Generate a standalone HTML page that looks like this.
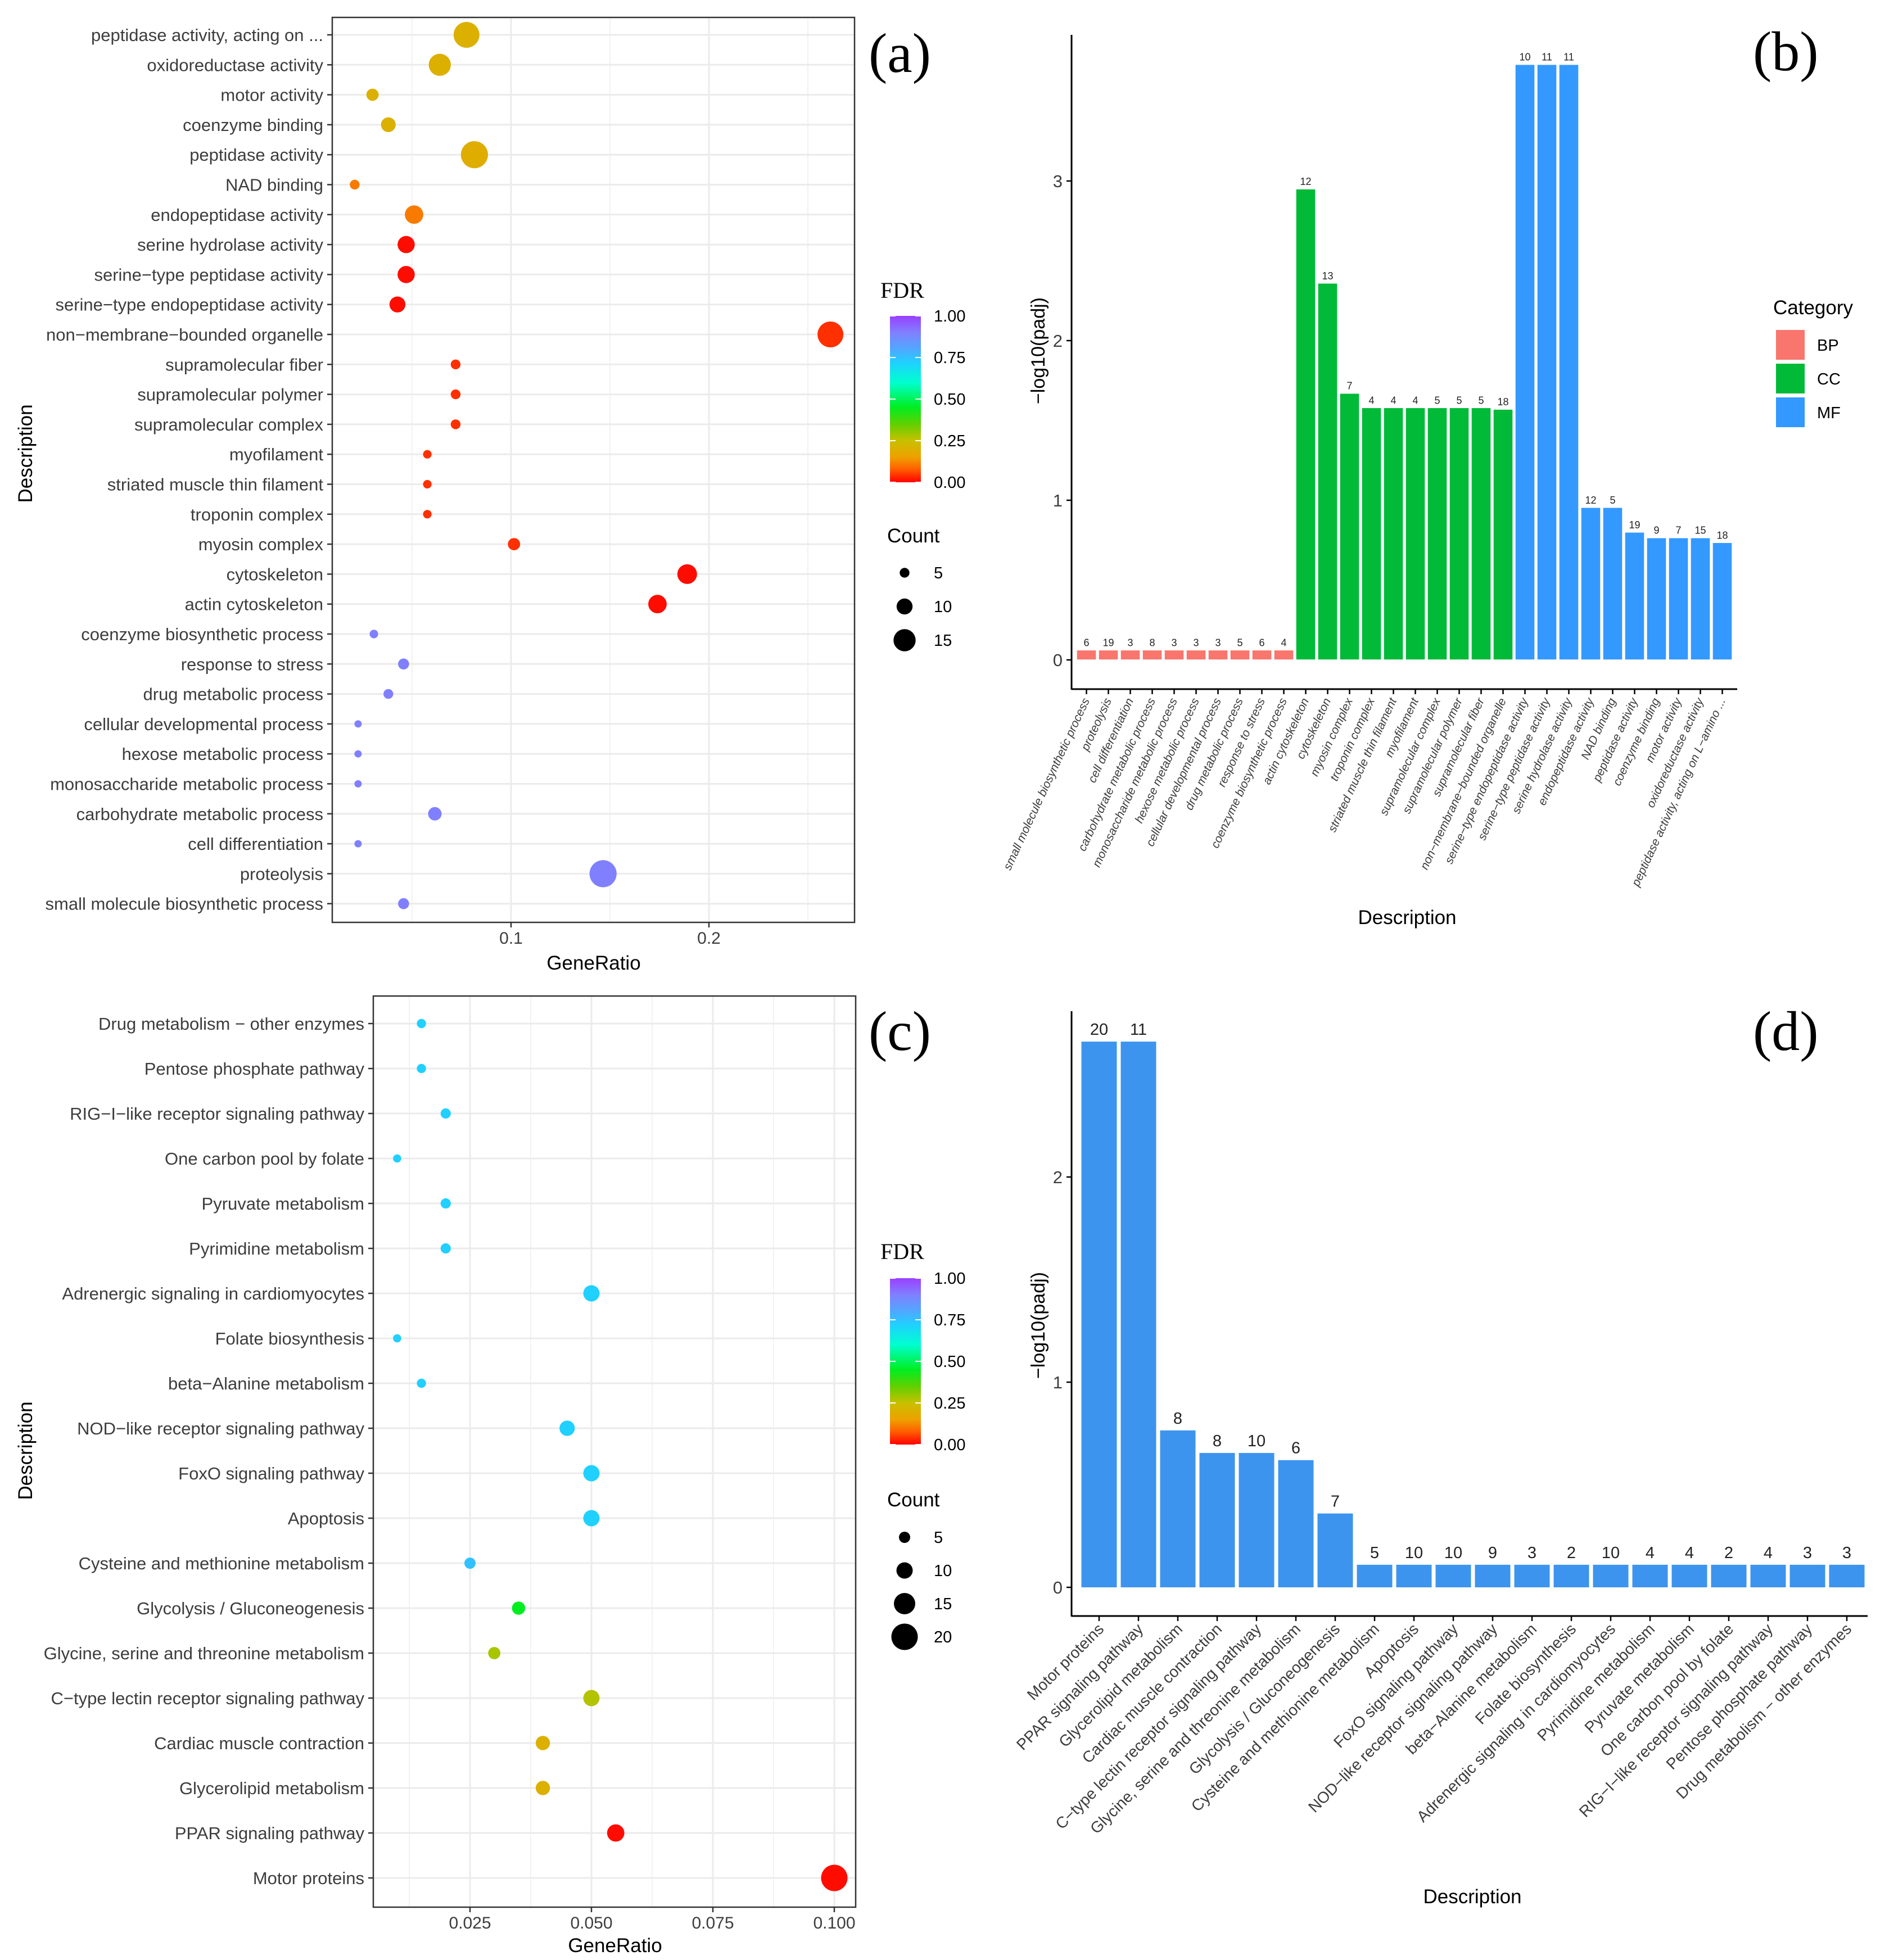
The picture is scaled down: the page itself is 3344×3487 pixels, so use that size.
<!DOCTYPE html>
<html><head><meta charset="utf-8"><style>
html,body{margin:0;padding:0;background:#fff;}
svg{display:block;font-family:"Liberation Sans",sans-serif;}
</style></head><body>
<svg id="fig" width="3344" height="3487" viewBox="0 0 3344 3487" xmlns="http://www.w3.org/2000/svg">
<defs>
<linearGradient id="fdrgrad" x1="0" y1="1" x2="0" y2="0">
<stop offset="0" stop-color="#ff0000"/><stop offset="0.08" stop-color="#ff6000"/><stop offset="0.15" stop-color="#eea000"/><stop offset="0.25" stop-color="#c8c000"/><stop offset="0.35" stop-color="#60d000"/><stop offset="0.45" stop-color="#00ee20"/><stop offset="0.6" stop-color="#00ffd0"/><stop offset="0.72" stop-color="#20d0ff"/><stop offset="0.8" stop-color="#50a8ff"/><stop offset="0.9" stop-color="#8080ff"/><stop offset="1" stop-color="#9a40ff"/>
</linearGradient>
</defs>
</svg>
<script>
// ---------- Panel a data ----------
const aTerms=["peptidase activity, acting on ...","oxidoreductase activity","motor activity","coenzyme binding","peptidase activity","NAD binding","endopeptidase activity","serine hydrolase activity","serine\u2212type peptidase activity","serine\u2212type endopeptidase activity","non\u2212membrane\u2212bounded organelle","supramolecular fiber","supramolecular polymer","supramolecular complex","myofilament","striated muscle thin filament","troponin complex","myosin complex","cytoskeleton","actin cytoskeleton","coenzyme biosynthetic process","response to stress","drug metabolic process","cellular developmental process","hexose metabolic process","monosaccharide metabolic process","carbohydrate metabolic process","cell differentiation","proteolysis","small molecule biosynthetic process"];
const aRatio=[0.0775,0.064,0.030,0.038,0.0815,0.021,0.051,0.047,0.047,0.0426,0.2614,0.072,0.072,0.072,0.0577,0.0577,0.0577,0.1015,0.189,0.174,0.0307,0.0457,0.038,0.0227,0.0227,0.0227,0.0615,0.0227,0.1465,0.0457];
const aCount=[18,15,7,9,19,5,12,11,11,10,18,5,5,5,4,4,4,7,13,12,4,6,5,3,3,3,8,3,19,6];
const aFDR=[0.2,0.2,0.2,0.2,0.19,0.11,0.11,0.01,0.01,0.01,0.04,0.04,0.04,0.04,0.04,0.04,0.04,0.04,0.01,0.01,0.9,0.9,0.9,0.9,0.9,0.9,0.9,0.9,0.9,0.9];
const aXTicks=[0.1,0.2];
const aXTickLabels=["0.1","0.2"];
const aSizeLegend=[5,10,15];

// ---------- Panel b data ----------
const bTerms=["small molecule biosynthetic process","proteolysis","cell differentiation","carbohydrate metabolic process","monosaccharide metabolic process","hexose metabolic process","cellular developmental process","drug metabolic process","response to stress","coenzyme biosynthetic process","actin cytoskeleton","cytoskeleton","myosin complex","troponin complex","striated muscle thin filament","myofilament","supramolecular complex","supramolecular polymer","supramolecular fiber","non\u2212membrane\u2212bounded organelle","serine\u2212type endopeptidase activity","serine\u2212type peptidase activity","serine hydrolase activity","endopeptidase activity","NAD binding","peptidase activity","coenzyme binding","motor activity","oxidoreductase activity","peptidase activity, acting on L\u2212amino ..."];
const bValues=[0.062,0.062,0.062,0.062,0.062,0.062,0.062,0.062,0.062,0.062,2.95,2.36,1.67,1.58,1.58,1.58,1.58,1.58,1.58,1.57,3.73,3.73,3.73,0.955,0.955,0.80,0.765,0.765,0.765,0.735];
const bCounts=[6,19,3,8,3,3,3,5,6,4,12,13,7,4,4,4,5,5,5,18,10,11,11,12,5,19,9,7,15,18];
const bCategory=["BP","BP","BP","BP","BP","BP","BP","BP","BP","BP","CC","CC","CC","CC","CC","CC","CC","CC","CC","CC","MF","MF","MF","MF","MF","MF","MF","MF","MF","MF"];
const bYTicks=[0,1,2,3];
const bCatNames=["BP","CC","MF"];

// ---------- Panel c data ----------
const cTerms=["Drug metabolism \u2212 other enzymes","Pentose phosphate pathway","RIG\u2212I\u2212like receptor signaling pathway","One carbon pool by folate","Pyruvate metabolism","Pyrimidine metabolism","Adrenergic signaling in cardiomyocytes","Folate biosynthesis","beta\u2212Alanine metabolism","NOD\u2212like receptor signaling pathway","FoxO signaling pathway","Apoptosis","Cysteine and methionine metabolism","Glycolysis / Gluconeogenesis","Glycine, serine and threonine metabolism","C\u2212type lectin receptor signaling pathway","Cardiac muscle contraction","Glycerolipid metabolism","PPAR signaling pathway","Motor proteins"];
const cRatio=[0.015,0.015,0.02,0.01,0.02,0.02,0.05,0.01,0.015,0.045,0.05,0.05,0.025,0.035,0.03,0.05,0.04,0.04,0.055,0.1];
const cCount=[3,3,4,2,4,4,10,2,3,9,10,10,5,7,6,10,8,8,11,20];
const cFDR=[0.72,0.72,0.72,0.72,0.72,0.72,0.72,0.72,0.72,0.72,0.72,0.72,0.75,0.45,0.28,0.27,0.2,0.2,0.01,0.01];
const cXTicks=[0.025,0.05,0.075,0.1];
const cXTickLabels=["0.025","0.050","0.075","0.100"];
const cSizeLegend=[5,10,15,20];

// ---------- Panel d data ----------
const dTerms=["Motor proteins","PPAR signaling pathway","Glycerolipid metabolism","Cardiac muscle contraction","C\u2212type lectin receptor signaling pathway","Glycine, serine and threonine metabolism","Glycolysis / Gluconeogenesis","Cysteine and methionine metabolism","Apoptosis","FoxO signaling pathway","NOD\u2212like receptor signaling pathway","beta\u2212Alanine metabolism","Folate biosynthesis","Adrenergic signaling in cardiomyocytes","Pyrimidine metabolism","Pyruvate metabolism","One carbon pool by folate","RIG\u2212I\u2212like receptor signaling pathway","Pentose phosphate pathway","Drug metabolism \u2212 other enzymes"];
const dValues=[2.66,2.66,0.765,0.655,0.655,0.62,0.36,0.11,0.11,0.11,0.11,0.11,0.11,0.11,0.11,0.11,0.11,0.11,0.11,0.11];
const dCounts=[20,11,8,8,10,6,7,5,10,10,9,3,2,10,4,4,2,4,3,3];
const dYTicks=[0,1,2];

const FDRTicks=[0,0.25,0.5,0.75,1];
const FDRTickLabels=["0.00","0.25","0.50","0.75","1.00"];

const NS="http://www.w3.org/2000/svg";
const svg=document.getElementById("fig");
function mk(tag,attrs,parent){const e=document.createElementNS(NS,tag);for(const k in attrs)e.setAttribute(k,attrs[k]);(parent||svg).appendChild(e);return e;}
function tx(str,attrs,parent){const e=mk("text",attrs,parent);e.textContent=str;return e;}

const stops=[[0,[255,0,0]],[0.08,[255,96,0]],[0.15,[238,160,0]],[0.25,[200,192,0]],[0.35,[96,208,0]],[0.45,[0,238,32]],[0.6,[0,255,208]],[0.72,[32,208,255]],[0.8,[80,168,255]],[0.9,[128,128,255]],[1,[154,64,255]]];
function fdrColor(v){for(let i=1;i<stops.length;i++){if(v<=stops[i][0]){const a=stops[i-1],b=stops[i];const t=(v-a[0])/(b[0]-a[0]);const c=a[1].map((x,j)=>Math.round(x+(b[1][j]-x)*t));return "rgb("+c.join(",")+")";}}return "rgb(154,64,255)";}

// ===== Dot plot builder =====
function dotPanel(o){
  const g=mk("g",{});
  
  
  const xs=v=>o.x0+v*o.xs;
  const ys=i=>o.y0+i*o.dy;
  const rs=c=>o.ra+o.rb*c;
  mk("rect",{x:o.L,y:o.T,width:o.R-o.L,height:o.B-o.T,fill:"#fff"},g);
  o.minor.forEach(v=>{const l=mk("line",{x1:xs(v),x2:xs(v),y1:o.T,y2:o.B,stroke:"#f2f2f2","stroke-width":2},g);});
  o.xticks.forEach(v=>{const l=mk("line",{x1:xs(v),x2:xs(v),y1:o.T,y2:o.B,stroke:"#ebebeb","stroke-width":3},g);});
  o.terms.forEach((t,i)=>{const l=mk("line",{x1:o.L,x2:o.R,y1:ys(i),y2:ys(i),stroke:"#ebebeb","stroke-width":3},g);});
  o.terms.forEach((t,i)=>{
    const c=mk("circle",{cx:xs(o.ratio[i]),cy:ys(i),r:rs(o.count[i]),fill:fdrColor(o.fdr[i])},g);
    
    
    const tk=mk("line",{x1:o.L-9,x2:o.L,y1:ys(i),y2:ys(i),stroke:"#333","stroke-width":2.5},g);
    
    
    const lb=tx(t,{x:o.L-16,y:ys(i)+11,"text-anchor":"end","font-size":31,fill:"#3d3d3d"},g);
    
    
  });
  o.xticks.forEach((v,i)=>{
    const tk=mk("line",{x1:xs(v),x2:xs(v),y1:o.B,y2:o.B+9,stroke:"#333","stroke-width":2.5},g);
    
    
    const lb=tx(o.xlabels[i],{x:xs(v),y:o.B+38,"text-anchor":"middle","font-size":30,fill:"#3d3d3d"},g);
    
    
  });
  const fr=mk("rect",{x:o.L,y:o.T,width:o.R-o.L,height:o.B-o.T,fill:"none",stroke:"#333","stroke-width":2.5},g);
  
  
  const xt=tx("GeneRatio",{x:o.xtx,y:o.xty,"text-anchor":"middle","font-size":35,fill:"#000"},g);
  
  
  const yt=tx("Description",{x:0,y:0,transform:"translate(57,"+o.ytY+") rotate(-90)","text-anchor":"middle","font-size":35,fill:"#000"},g);
  
  
  const pl=tx(o.tag,{x:1545,y:o.tagY,"font-size":100,"font-family":"Liberation Serif, serif",fill:"#000"},g);
  
  
  const ft=tx("FDR",{x:1566,y:o.lgT,"font-size":40,"font-family":"Liberation Serif, serif",fill:"#000"},g);
  
  
  const cb=mk("rect",{x:1583,y:o.cbT,width:55,height:o.cbB-o.cbT,fill:"url(#fdrgrad)"},g);
  
  
  FDRTicks.forEach((v,i)=>{
    const y=o.cbB-v*(o.cbB-o.cbT);
    mk("line",{x1:1583,x2:1593,y1:y,y2:y,stroke:"#fff","stroke-width":2},g);
    mk("line",{x1:1628,x2:1638,y1:y,y2:y,stroke:"#fff","stroke-width":2},g);
    const l=tx(FDRTickLabels[i],{x:1661,y:y+10,"font-size":29,fill:"#000"},g);
    
    
  });
  const ct=tx("Count",{x:1578,y:o.cntT,"font-size":35,fill:"#000"},g);
  
  
  o.sizes.forEach((s,i)=>{
    const y=o.cntY0+i*o.cntDy;
    const c=mk("circle",{cx:1609,cy:y,r:rs(s),fill:"#000"},g);
    
    
    const l=tx(String(s),{x:1661,y:y+10,"font-size":29,fill:"#000"},g);
    
    
  });
}

dotPanel({name:"panel-a-dotplot",terms:aTerms,ratio:aRatio,count:aCount,fdr:aFDR,L:591,R:1520,T:31,B:1641,x0:557,xs:3520,y0:62,dy:53.3,ra:3.2,rb:1.1,
  xticks:aXTicks,xlabels:aXTickLabels,minor:[0.05,0.15,0.25],xtx:1056,xty:1725,ytY:807,tag:"(a)",tagY:128,
  lgT:530,cbT:562,cbB:858,cntT:965,cntY0:1019,cntDy:60,sizes:aSizeLegend});

dotPanel({name:"panel-c-dotplot",terms:cTerms,ratio:cRatio,count:cCount,fdr:cFDR,L:664,R:1522,T:1772,B:3393,x0:620,xs:8640,y0:1821,dy:80,ra:5.5,rb:0.9,
  xticks:cXTicks,xlabels:cXTickLabels,minor:[0.0125,0.0375,0.0625,0.0875],xtx:1094,xty:3473,ytY:2581,tag:"(c)",tagY:1868,
  lgT:2240,cbT:2274,cbB:2570,cntT:2680,cntY0:2735,cntDy:59,sizes:cSizeLegend});

// ===== Panel b =====
(function(){
  const g=mk("g",{});
  
  
  const X0=1906,Y0=1174,U=284,P=39,BX=1913;
  const ys=v=>Y0-v*U;
  const xc=i=>BX+P*(i+0.5);
  const col={BP:"#f8766d",CC:"#00ba38",MF:"#3399ff"};
  bValues.forEach((v,i)=>{
    const r=mk("rect",{x:xc(i)-P*0.45,y:ys(v),width:P*0.9,height:v*U,fill:col[bCategory[i]],stroke:"#fff","stroke-width":1.5},g);
    
    
    const t=tx(String(bCounts[i]),{x:xc(i),y:ys(v)-7,"text-anchor":"middle","font-size":18,fill:"#222"},g);
    
    
    const tk=mk("line",{x1:xc(i),x2:xc(i),y1:1226,y2:1235,stroke:"#000","stroke-width":2.5},g);
    
    
    const lb=tx(bTerms[i],{x:0,y:0,transform:"translate("+(xc(i)+6)+",1246) rotate(-65)","text-anchor":"end","font-size":21,fill:"#3d3d3d","font-style":"italic"},g);
    
    
  });
  const ax=mk("line",{x1:X0,x2:3090,y1:1226,y2:1226,stroke:"#000","stroke-width":3},g);
  
  
  const ay=mk("line",{x1:X0,x2:X0,y1:62,y2:1227,stroke:"#000","stroke-width":3},g);
  
  
  bYTicks.forEach(v=>{
    const tk=mk("line",{x1:X0-9,x2:X0,y1:ys(v),y2:ys(v),stroke:"#000","stroke-width":2.5},g);
    
    
    const l=tx(String(v),{x:X0-16,y:ys(v)+11,"text-anchor":"end","font-size":31,fill:"#3d3d3d"},g);
    
    
  });
  const yt=tx("\u2212log10(padj)",{x:0,y:0,transform:"translate(1858,624) rotate(-90)","text-anchor":"middle","font-size":34,fill:"#000"},g);
  
  
  const xt=tx("Description",{x:2503,y:1644,"text-anchor":"middle","font-size":35,fill:"#000"},g);
  
  
  const pl=tx("(b)",{x:3118,y:125,"font-size":100,"font-family":"Liberation Serif, serif",fill:"#000"},g);
  
  
  const lt=tx("Category",{x:3154,y:559,"font-size":35,fill:"#000"},g);
  
  
  bCatNames.forEach((c,i)=>{
    const y=586+i*60;
    const k=mk("rect",{x:3158,y:y,width:53,height:55,fill:col[c],stroke:"#fff","stroke-width":2},g);
    
    
    const l=tx(c,{x:3232,y:y+38,"font-size":29,fill:"#000"},g);
    
    
  });
})();

// ===== Panel d =====
(function(){
  const g=mk("g",{});
  
  
  const X0=1906,Y0=2824,U=365,P=70,C0=1955;
  const ys=v=>Y0-v*U;
  const xc=i=>C0+P*i;
  dValues.forEach((v,i)=>{
    const r=mk("rect",{x:xc(i)-P*0.45,y:ys(v),width:P*0.9,height:v*U,fill:"#3d94ee"},g);
    
    
    const t=tx(String(dCounts[i]),{x:xc(i),y:ys(v)-12,"text-anchor":"middle","font-size":29,fill:"#222"},g);
    
    
    const tk=mk("line",{x1:xc(i),x2:xc(i),y1:2875,y2:2884,stroke:"#000","stroke-width":2.5},g);
    
    
    const lb=tx(dTerms[i],{x:0,y:0,transform:"translate("+(xc(i)+10)+",2900) rotate(-45)","text-anchor":"end","font-size":28,fill:"#3d3d3d"},g);
    
    
  });
  const ax=mk("line",{x1:X0,x2:3322,y1:2875,y2:2875,stroke:"#000","stroke-width":3},g);
  
  
  const ay=mk("line",{x1:X0,x2:X0,y1:1799,y2:2876,stroke:"#000","stroke-width":3},g);
  
  
  dYTicks.forEach(v=>{
    const tk=mk("line",{x1:X0-9,x2:X0,y1:ys(v),y2:ys(v),stroke:"#000","stroke-width":2.5},g);
    
    
    const l=tx(String(v),{x:X0-16,y:ys(v)+11,"text-anchor":"end","font-size":31,fill:"#3d3d3d"},g);
    
    
  });
  const yt=tx("\u2212log10(padj)",{x:0,y:0,transform:"translate(1858,2358) rotate(-90)","text-anchor":"middle","font-size":34,fill:"#000"},g);
  
  
  const xt=tx("Description",{x:2619,y:3386,"text-anchor":"middle","font-size":35,fill:"#000"},g);
  
  
  const pl=tx("(d)",{x:3118,y:1868,"font-size":100,"font-family":"Liberation Serif, serif",fill:"#000"},g);
  
  
})();
</script>
</body></html>
